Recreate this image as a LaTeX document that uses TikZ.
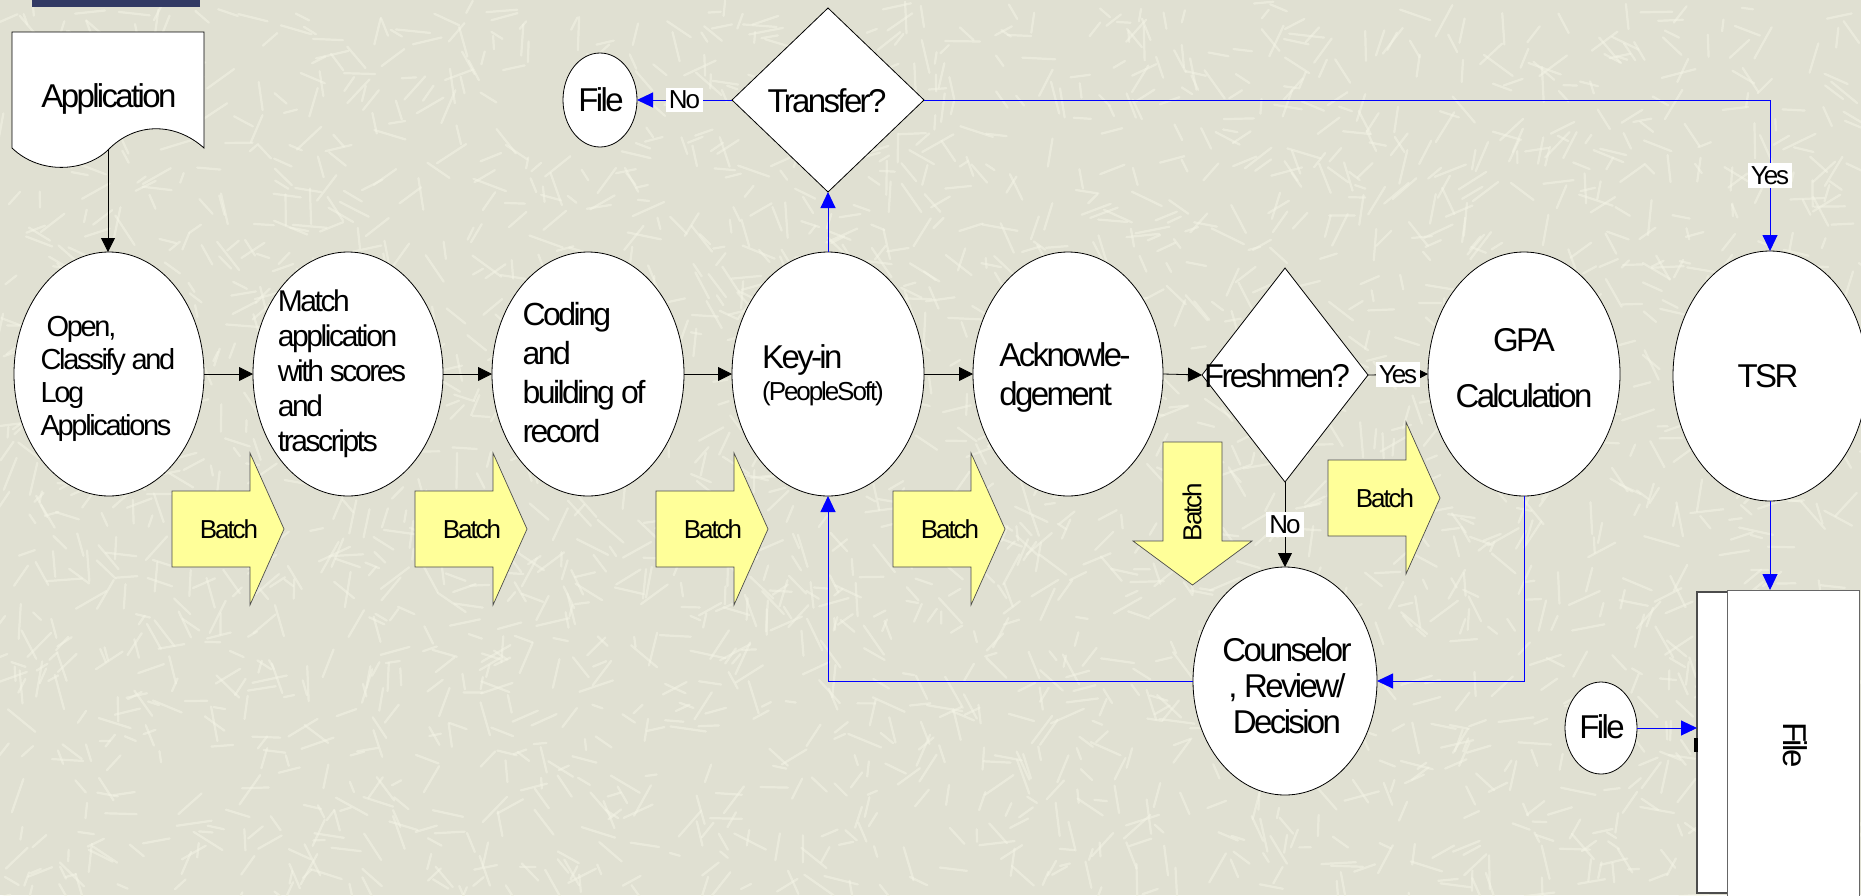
\documentclass[tikz,border=0pt]{standalone}
\usepackage{fontspec}
\setmainfont{Liberation Sans}[LetterSpace=-8]
\usetikzlibrary{shapes.geometric,arrows.meta}
\definecolor{bgc}{RGB}{224,224,210}
\definecolor{bgl}{RGB}{244,244,230}
\definecolor{batchy}{RGB}{255,255,153}
\definecolor{navyc}{RGB}{50,58,100}
\newcommand\fsz[2]{\fontsize{#1}{#2}\selectfont}
\newcommand\mybatchR[2]{%
  \filldraw[batchshape] (#1,#2-38) -- (#1+78,#2-38) -- (#1+78,#2-76) -- (#1+112,#2) -- (#1+78,#2+76) -- (#1+78,#2+38) -- (#1,#2+38) -- cycle;}
\begin{document}
\begin{tikzpicture}[x=1pt,y=-1pt,
 proc/.style={ellipse,draw=black,fill=white,line width=0.8pt,inner sep=0pt,outer sep=0pt},
 dec/.style={diamond,draw=black,fill=white,line width=0.8pt,inner sep=0pt,outer sep=0pt},
 txt/.style={align=left,inner sep=0pt},
 ctxt/.style={align=center,inner sep=0pt,font=\fsz{33}{38}},
 lbl/.style={fill=white,inner sep=3pt,font=\fsz{26}{30}},
 barr/.style={draw=black,line width=0.8pt,-{Triangle[length=14pt,width=14pt]}},
 blarr/.style={draw=blue,line width=1pt,-{Triangle[length=16pt,width=15pt]}},
 batchshape/.style={fill=batchy,draw=black!70,line width=0.7pt},
 batchtxt/.style={inner sep=0pt,font=\fsz{26}{30}}
]
\useasboundingbox (0,0) rectangle (1861,895);
\clip (0,0) rectangle (1861,895);
\fill[bgc] (0,0) rectangle (1861,895);
\pgfmathsetseed{12}
\foreach \i in {1,...,2600}{
  \pgfmathsetmacro\xa{rnd*1861}
  \pgfmathsetmacro\ya{rnd*895}
  \pgfmathsetmacro\an{rnd*180}
  \pgfmathsetmacro\ln{10+rnd*26}
  \draw[bgl,line width=2.2pt,line cap=round,opacity=0.55] (\xa,\ya) -- ++(\an:\ln);
}
% top-left bar
\fill[navyc] (32,0) rectangle (200,7);

% Application document
\draw[fill=white,line width=0.8pt] (12,32) -- (204,32) -- (204,148) .. controls (175,122) and (135,122) .. (108,150) .. controls (85,172) and (40,175) .. (12,148) -- cycle;
\coordinate (appw) at (108,150);
\node[ctxt] (tapp) at (109,99) {Application};

% process ellipses
\node[proc,minimum width=190pt,minimum height=244pt] (open) at (109,374) {};
\node[proc,minimum width=190pt,minimum height=244pt] (match) at (348,374) {};
\node[proc,minimum width=192pt,minimum height=244pt] (coding) at (588,374) {};
\node[proc,minimum width=192pt,minimum height=244pt] (keyin) at (828,374) {};
\node[proc,minimum width=190pt,minimum height=244pt] (ack) at (1068,374) {};
\node[proc,minimum width=192pt,minimum height=244pt] (gpa) at (1524,374) {};
\node[proc,minimum width=194pt,minimum height=250pt] (tsr) at (1770,376) {};
\node[proc,minimum width=184pt,minimum height=228pt] (couns) at (1285,681) {};
\node[proc,minimum width=74pt,minimum height=94pt] (filetop) at (600,100) {};
\node[proc,minimum width=72pt,minimum height=92pt] (filesm) at (1601,728) {};
% decisions
\node[dec,minimum width=192pt,minimum height=184pt] (transfer) at (828,100) {};
\node[dec,minimum width=166pt,minimum height=214pt] (fresh) at (1285,375) {};

% file stack
\node[draw=black!70,line width=1.2pt,fill=white,anchor=north west,minimum width=60pt,minimum height=301pt,inner sep=0pt,outer sep=0pt] (fileback) at (1697,592) {};
\draw[black!70,line width=2.5pt] (fileback.north west) -- (fileback.south west);
\fill[black] (1694,738) rectangle (1698,752);
\node[draw=black!60,line width=0.8pt,fill=white,anchor=north west,minimum width=132pt,minimum height=320pt,inner sep=0pt,outer sep=0pt] (filefront) at (1727,590) {};
\node[rotate=-90,inner sep=0pt,font=\fsz{33}{38}] (tfilebig) at (1795,745) {File};

% texts
\node[txt,font=\fsz{29}{33}] (topen) at (108,379) {\hspace*{6pt}Open,\\Classify and\\Log\\Applications};
\node[txt,font=\fsz{30}{35}] (tmatch) at (342,374) {Match\\application\\with scores\\and\\trascripts};
\node[txt,font=\fsz{32}{39}] (tcoding) at (584,373) {Coding\\and\\building of\\record};
\node[txt,font=\fsz{33}{32}] (tkeyin) at (823,375) {Key-in\\{\fsz{26}{32}(PeopleSoft)}};
\node[txt,font=\fsz{33}{39}] (tack) at (1065,377) {Acknowle-\\dgement};
\node[ctxt,font=\fsz{33}{56}] (tgpa) at (1524,368) {GPA\\Calculation};
\node[ctxt] (ttsr) at (1768,376) {TSR};
\node[ctxt,font=\fsz{33}{36}] (tcouns) at (1287,686) {Counselor\\, Review/\\Decision};
\node[ctxt] (tfresh) at (1277,376) {Freshmen?};
\node[ctxt] (ttransfer) at (827,101) {Transfer?};
\node[ctxt] (tfile1) at (601,100) {File};
\node[ctxt] (tfile2) at (1602,727) {File};

% black connectors
\draw[barr] (appw) -- (appw |- open.north);
\draw[barr] (open) -- (match);
\draw[barr] (match) -- (coding);
\draw[barr] (coding) -- (keyin);
\draw[barr] (keyin) -- (ack);
\draw[barr] (ack.east) -- (fresh.west);
\draw[draw=black,line width=0.8pt,-{Triangle[length=8pt,width=8pt]}] (fresh.east) -- (gpa.west) node[lbl,midway] (yes2) {Yes};
\draw[barr] (fresh.south) -- (couns.north) node[lbl,midway] (no2) {No};

% blue connectors
\draw[blarr] (keyin.north) -- (transfer.south);
\draw[blarr] (transfer.west) -- (filetop.east) node[lbl,midway] (no1) {No};
\draw[blarr] (transfer.east) -| (tsr.north) node[lbl,pos=0.75] (yes1) {Yes};
\draw[blarr] (tsr.south) -- (tsr.south |- filefront.north);
\draw[blarr] (gpa.south) |- (couns.east);
\draw[blarr] (couns.west) -| (keyin.south);
\draw[blarr] (filesm.east) -- (filesm.east -| fileback.west);

% batch arrows
\mybatchR{172}{529}
\node[batchtxt] (b1) at (229,529) {Batch};
\mybatchR{415}{529}
\node[batchtxt] (b2) at (472,529) {Batch};
\mybatchR{656}{529}
\node[batchtxt] (b3) at (713,529) {Batch};
\mybatchR{893}{529}
\node[batchtxt] (b4) at (950,529) {Batch};
\mybatchR{1328}{498}
\node[batchtxt] (b5) at (1385,498) {Batch};
\filldraw[batchshape] (1163,442) -- (1222,442) -- (1222,541) -- (1252,541) -- (1192.5,585) -- (1133,541) -- (1163,541) -- cycle;
\node[batchtxt,rotate=90] (b6) at (1192,512) {Batch};
\end{tikzpicture}
\end{document}
